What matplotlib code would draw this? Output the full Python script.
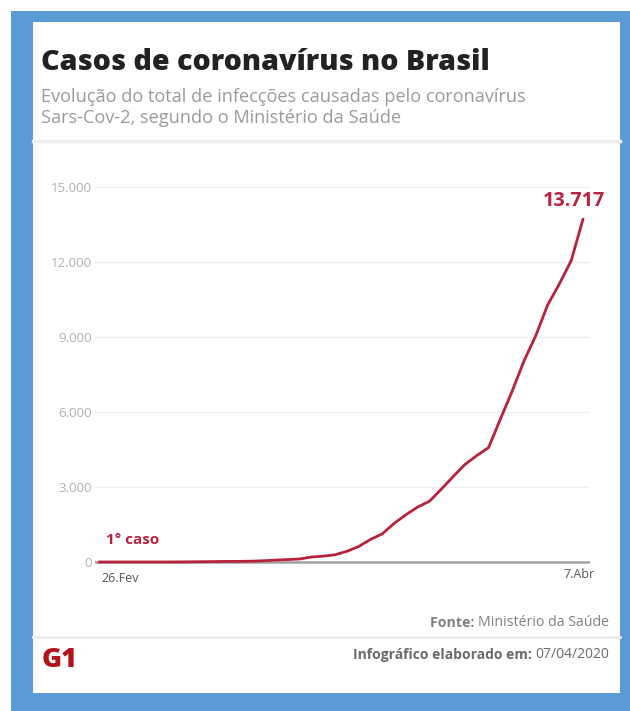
import matplotlib
matplotlib.use("Agg")
import matplotlib.pyplot as plt
from matplotlib.patches import Rectangle
from matplotlib.lines import Line2D

# Data: cumulative confirmed cases, 26 Feb .. 7 Apr 2020
dates = ["26.Fev", "27.Fev", "28.Fev", "29.Fev", "1.Mar", "2.Mar", "3.Mar", "4.Mar",
         "5.Mar", "6.Mar", "7.Mar", "8.Mar", "9.Mar", "10.Mar", "11.Mar", "12.Mar",
         "13.Mar", "14.Mar", "15.Mar", "16.Mar", "17.Mar", "18.Mar", "19.Mar", "20.Mar",
         "21.Mar", "22.Mar", "23.Mar", "24.Mar", "25.Mar", "26.Mar", "27.Mar", "28.Mar",
         "29.Mar", "30.Mar", "31.Mar", "1.Abr", "2.Abr", "3.Abr", "4.Abr", "5.Abr",
         "6.Abr", "7.Abr"]
cases = [1, 1, 1, 2, 2, 2, 2, 3, 8, 13, 19, 25, 25, 34, 52, 77, 98, 121, 200, 234,
         291, 428, 621, 904, 1128, 1546, 1891, 2201, 2433, 2915, 3417, 3904, 4256,
         4579, 5717, 6836, 8044, 9056, 10278, 11130, 12056, 13717]
yticks = [0, 3000, 6000, 9000, 12000, 15000]
ytick_labels = ["0", "3.000", "6.000", "9.000", "12.000", "15.000"]

W, H = 630, 711
fig = plt.figure(figsize=(W / 100, H / 100), dpi=100)
fig.patch.set_facecolor("white")

def fx(px):
    return px / W

def fy(py):
    return 1 - py / H

FONT = ["Open Sans", "DejaVu Sans"]
RED = "#b8223c"

# Blue frame and white panel
fig.add_artist(Rectangle((fx(11), fy(711)), fx(619), 700 / H, transform=fig.transFigure,
                         facecolor="#5b9bd5", edgecolor="none", zorder=0))
fig.add_artist(Rectangle((fx(33), fy(693)), fx(587), 671 / H, transform=fig.transFigure,
                         facecolor="white", edgecolor="none", zorder=0.5))

# Separators
fig.add_artist(Line2D([fx(33), fx(620)], [fy(141), fy(141)], transform=fig.transFigure,
                      color="#eeeeee", lw=2.5, zorder=1))
fig.add_artist(Line2D([fx(33), fx(620)], [fy(637), fy(637)], transform=fig.transFigure,
                      color="#eeeeee", lw=2, zorder=1))

# Title and subtitle
fig.text(fx(41), fy(62), "Casos de coronavírus no Brasil", family=FONT, fontweight="heavy",
         fontsize=20.6, color="#222222", va="center", ha="left", zorder=3)
fig.text(fx(41), fy(97), "Evolução do total de infecções causadas pelo coronavírus",
         family=FONT, fontsize=13.1, color="#9a9a9a", va="center", ha="left", zorder=3)
fig.text(fx(41), fy(118), "Sars-Cov-2, segundo o Ministério da Saúde",
         family=FONT, fontsize=13.1, color="#9a9a9a", va="center", ha="left", zorder=3)

# Axes
ax = fig.add_axes([fx(95), fy(565), fx(495), (565 - 185) / H])
ax.set_zorder(2)
ax.set_facecolor("none")
x = list(range(len(dates)))
ax.plot(x, cases, color=RED, lw=2.0, solid_capstyle="round", zorder=3)
ax.set_xlim(-0.34, 41.59)
ax.set_ylim(-120, 15080)
ax.set_yticks(yticks)
ax.set_yticklabels(ytick_labels, family=FONT, fontsize=9.5, color="#b0b0b0")
ax.tick_params(axis="y", length=0, pad=2)
ax.set_xticks([])
for s in ax.spines.values():
    s.set_visible(False)
for v in yticks[1:]:
    ax.axhline(v, color="#efefef", lw=1, zorder=1)
ax.axhline(0, color="#a0a0a0", lw=1.8, zorder=2)

# Annotations
ax.annotate("13.717", xy=(x[-1], cases[-1]), xytext=(22, 18), textcoords="offset pixels",
            family=FONT, fontweight="bold", fontsize=14.3, color=RED,
            ha="right", va="center", annotation_clip=False)
ax.annotate("1° caso", xy=(x[0], cases[0]), xytext=(7, 22), textcoords="offset pixels",
            family=FONT, fontweight="bold", fontsize=11, color=RED,
            ha="left", va="center", annotation_clip=False)
ax.annotate(dates[0], xy=(x[0], 0), xytext=(2, -16), textcoords="offset pixels",
            family=FONT, fontsize=9, color="#555555", ha="left", va="center",
            annotation_clip=False)
ax.annotate(dates[-1], xy=(x[-1], 0), xytext=(12, -13), textcoords="offset pixels",
            family=FONT, fontsize=9, color="#555555", ha="right", va="center",
            annotation_clip=False)

# Footer
fig.canvas.draw()
renderer = fig.canvas.get_renderer()

def two_part(xr, yc, bold, normal, size, color):
    t = fig.text(fx(xr), fy(yc), normal, family=FONT, fontsize=size, color=color,
                 ha="right", va="center", zorder=3)
    w = t.get_window_extent(renderer).width
    fig.text(fx(xr - w), fy(yc), bold, family=FONT, fontsize=size, color=color,
             fontweight="bold", ha="right", va="center", zorder=3)

two_part(609, 623, "Fonte: ", "Ministério da Saúde", 10.2, "#808080")
two_part(609, 655, "Infográfico elaborado em: ", "07/04/2020", 10, "#6a6a6a")
fig.text(fx(42), fy(660), "G1", family=FONT, fontweight="heavy", fontsize=19.5,
         color="#b5121b", ha="left", va="center", zorder=3)

fig.savefig("out.png", dpi=100, facecolor="white")
